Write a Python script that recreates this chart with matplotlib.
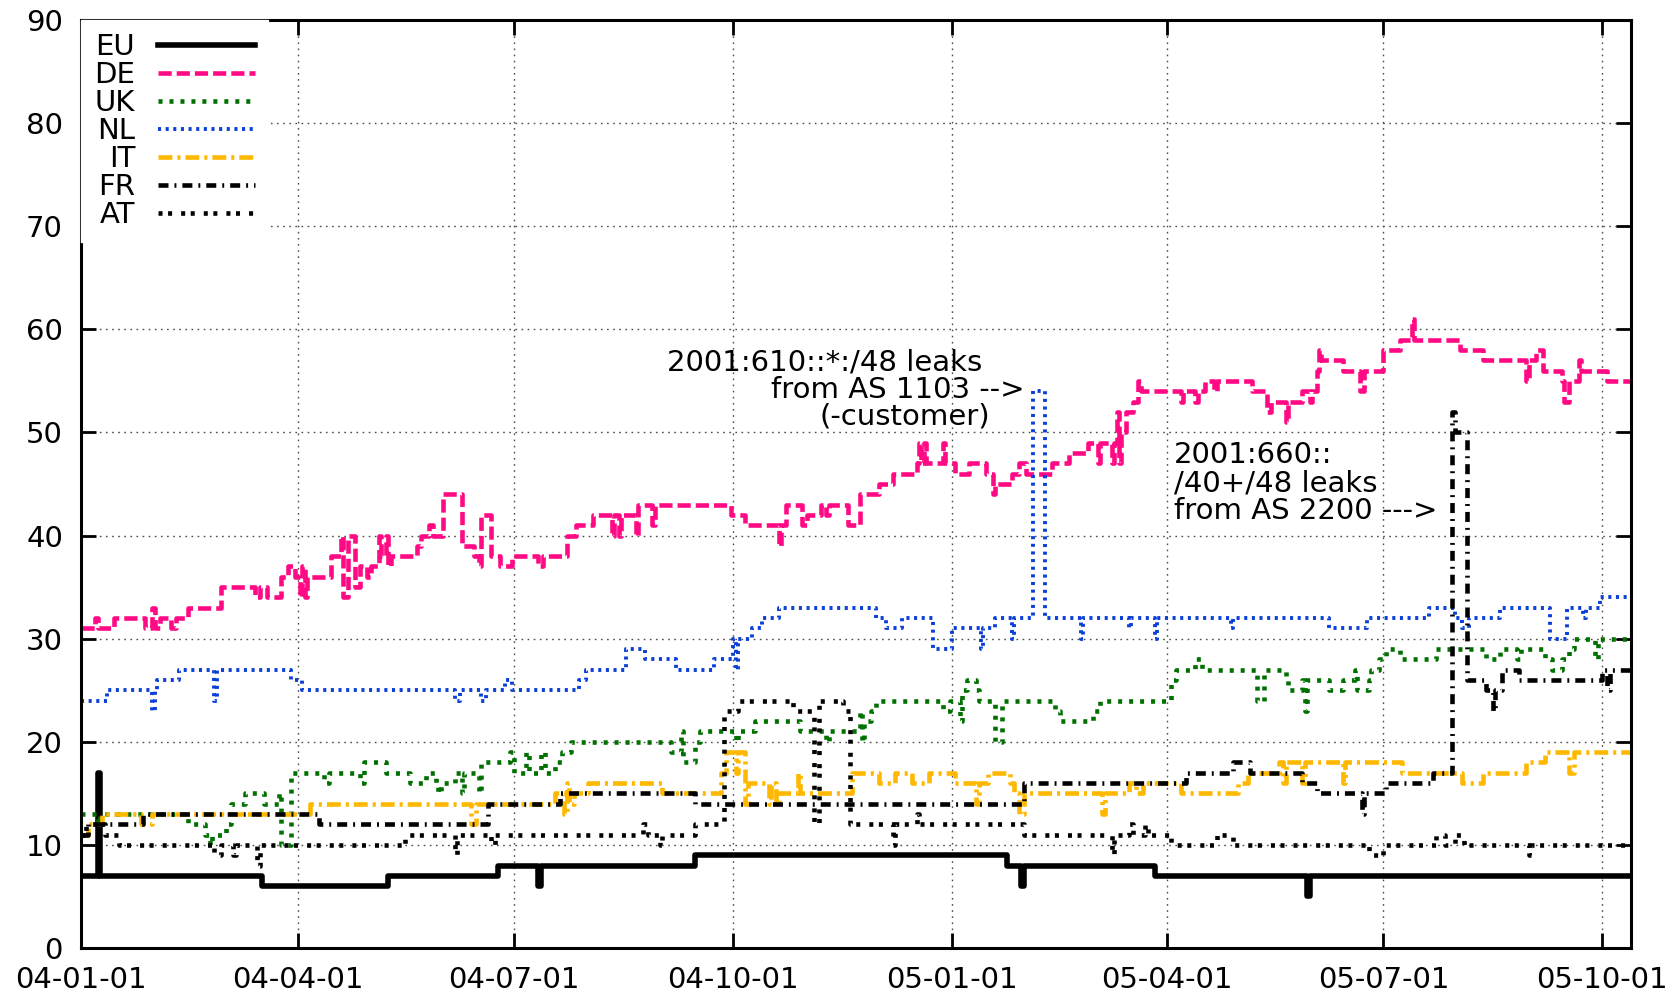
import numpy as np
import matplotlib
matplotlib.use('Agg')
import matplotlib.pyplot as plt
import matplotlib.dates as mdates

plt.rcParams['font.family'] = 'DejaVu Sans'
plt.rcParams['lines.scale_dashes'] = False
plt.rcParams['lines.dash_capstyle'] = 'butt'

# day offsets since 2004-01-01 where the value changes, and the new value
eu_days = [0, 7, 8, 76, 129, 175, 192, 193, 258, 389, 395, 396, 451, 515, 516]
eu_vals = [7, 17, 7, 6, 7, 8, 6, 8, 9, 8, 6, 8, 7, 5, 7]

de_days = [0, 6, 7, 14, 27, 30, 31, 33, 38, 40, 45, 59, 73, 75, 78, 84, 87, 90, 92, 93, 94, 95,
           105, 109, 110, 112, 115, 117, 120, 122, 125, 126, 128, 129, 130, 141, 143, 146, 148, 152,
           160, 165, 167, 168, 172, 176, 181, 192, 194, 204, 208, 215, 223, 224, 226, 227, 233, 234,
           240, 241, 273, 279, 293, 294, 296, 303, 305, 311, 313, 314, 322, 325, 327, 335, 341, 351,
           352, 353, 354, 355, 362, 363, 367, 373, 380, 383, 384, 391, 394, 397, 408, 415, 423, 427,
           428, 433, 434, 435, 436, 437, 439, 442, 444, 445, 462, 463, 468, 469, 472, 476, 477, 492,
           498, 500, 506, 507, 513, 516, 517, 519, 520, 521, 530, 537, 539, 547, 554, 559, 560, 579,
           589, 607, 608, 611, 614, 622, 623, 625, 629, 630, 641]
de_vals = [31, 32, 31, 32, 31, 33, 31, 32, 31, 32, 33, 35, 34, 35, 34, 36, 37, 36, 34, 37, 34, 36,
           38, 40, 34, 40, 35, 37, 36, 37, 40, 38, 40, 37, 38, 39, 40, 41, 40, 44,
           39, 38, 37, 42, 38, 37, 38, 37, 38, 40, 41, 42, 40, 42, 40, 42, 40, 43,
           41, 43, 42, 41, 39, 41, 43, 41, 42, 43, 42, 43, 41, 41, 44, 45, 46, 47,
           49, 47, 49, 47, 49, 47, 46, 47, 46, 44, 45, 46, 47, 46, 47, 48, 49, 47,
           49, 47, 49, 52, 47, 50, 52, 53, 55, 54, 53, 54, 53, 54, 55, 54, 55, 54,
           52, 53, 51, 53, 54, 53, 54, 56, 58, 57, 56, 54, 56, 58, 59, 61, 59, 58,
           57, 55, 57, 58, 56, 55, 53, 55, 57, 56, 55]

uk_days = [0, 7, 8, 45, 52, 54, 55, 61, 63, 69, 77, 83, 84, 88, 102, 104, 117, 119, 128, 138, 145,
           149, 150, 151, 157, 160, 161, 167, 168, 180, 182, 187, 188, 193, 195, 199, 202, 206, 248,
           252, 253, 258, 260, 275, 276, 283, 302, 313, 314, 327, 328, 329, 332, 334, 362, 365, 369,
           370, 372, 376, 377, 384, 387, 409, 411, 425, 428, 458, 460, 468, 471, 494, 497, 506, 507,
           513, 514, 515, 524, 530, 535, 536, 541, 542, 545, 548, 554, 569, 590, 596, 603, 605, 615,
           618, 622, 625, 627, 636, 637]
uk_vals = [13, 12, 13, 12, 11, 10, 11, 12, 14, 15, 14, 15, 10, 17, 16, 17, 16, 18, 17, 16, 17,
           16, 15, 16, 17, 15, 17, 15, 18, 19, 17, 19, 17, 19, 17, 18, 19, 20, 19,
           21, 18, 20, 21, 20, 21, 22, 21, 20, 21, 23, 20, 22, 23, 24, 23, 24, 22,
           25, 26, 25, 24, 20, 24, 23, 22, 23, 24, 26, 27, 28, 27, 24, 27, 26, 25,
           26, 23, 26, 25, 26, 27, 25, 26, 27, 28, 29, 28, 29, 28, 29, 28, 29, 28,
           27, 28, 29, 30, 28, 30]

nl_days = [0, 11, 30, 31, 32, 41, 56, 57, 88, 93, 157, 159, 168, 170, 178, 181, 209, 212, 229, 237,
           250, 266, 274, 275, 276, 282, 286, 293, 334, 338, 345, 358, 366, 378, 379, 384, 391, 392,
           400, 405, 420, 421, 440, 441, 451, 452, 483, 484, 524, 540, 566, 577, 580, 583, 596, 617,
           624, 631, 632, 638]
nl_vals = [24, 25, 23, 25, 26, 27, 24, 27, 26, 25, 24, 25, 24, 25, 26, 25, 26, 27, 29, 28,
           27, 28, 30, 27, 30, 31, 32, 33, 32, 31, 32, 29, 31, 29, 31, 32, 30, 32,
           54, 32, 30, 32, 31, 32, 30, 32, 31, 32, 31, 32, 33, 32, 31, 32, 33, 30,
           33, 32, 33, 34]

it_days = [0, 3, 9, 25, 30, 96, 164, 166, 199, 203, 204, 205, 207, 213, 244, 269, 271, 275, 276,
           279, 280, 289, 290, 292, 293, 301, 302, 324, 335, 342, 349, 356, 367, 376, 377, 381, 390,
           392, 394, 396, 429, 430, 440, 443, 446, 462, 486, 490, 503, 505, 506, 513, 514, 530, 531,
           555, 580, 589, 607, 615, 625, 627]
it_vals = [11, 12, 13, 12, 13, 14, 12, 14, 15, 13, 16, 14, 15, 16, 15, 17, 19, 17, 19,
           14, 16, 14, 16, 14, 15, 17, 15, 17, 16, 17, 16, 17, 16, 14, 16, 17, 16,
           15, 13, 15, 13, 15, 16, 15, 16, 15, 16, 17, 18, 16, 18, 16, 18, 16, 18,
           17, 16, 17, 18, 19, 17, 19]

fr_days = [0, 3, 26, 100, 171, 201, 258, 396, 464, 484, 491, 513, 519, 538, 539, 548, 568, 576,
           577, 582, 590, 593, 594, 597, 604, 639, 641, 642]
fr_vals = [11, 12, 13, 12, 14, 15, 14, 16, 17, 18, 17, 16, 15, 13, 15, 16, 17, 52,
           50, 26, 25, 23, 25, 27, 26, 27, 25, 27]

at_days = [0, 2, 10, 16, 56, 59, 64, 65, 74, 75, 136, 157, 158, 172, 174, 236, 238, 243, 244, 258,
           270, 276, 299, 308, 310, 320, 323, 341, 342, 351, 352, 396, 433, 434, 440, 442, 447, 448,
           458, 477, 484, 541, 547, 569, 573, 577, 581, 608, 609]
at_vals = [11, 12, 11, 10, 9, 10, 9, 10, 8, 10, 11, 9, 11, 10, 11, 12, 11, 10, 11, 12,
           23, 24, 23, 12, 24, 23, 12, 10, 12, 13, 12, 11, 9, 11, 12, 11, 12, 11,
           10, 11, 10, 9, 10, 11, 10, 11, 10, 9, 10]

labels = ['EU', 'DE', 'UK', 'NL', 'IT', 'FR', 'AT']
colors = ['black', '#ff0a84', '#007000', '#0a3fd8', '#ffb800', 'black', 'black']
widths = [4.0, 3.3, 3.3, 2.8, 3.3, 3.3, 3.3]
styles = ['-', (0, (9.5, 3.6)), (0, (2.9, 5.0)), (0, (2.2, 3.3)),
          (0, (10, 3.6, 2.2, 3.6)), (0, (7.2, 4.3, 1.4, 4.3)), (0, (2.9, 4.0, 2.9, 6.5))]
all_days = [eu_days, de_days, uk_days, nl_days, it_days, fr_days, at_days]
all_vals = [eu_vals, de_vals, uk_vals, nl_vals, it_vals, fr_vals, at_vals]

start = np.datetime64('2004-01-01')
end_day = 652

fig = plt.figure(figsize=(16.8, 9.93), dpi=100)
ax = fig.add_axes([81/1680, 45/993, 1550/1680, 928/993])

for d, v, lab, c, w, ls in zip(all_days, all_vals, labels, colors, widths, styles):
    x = start + np.array(d + [end_day]).astype('timedelta64[D]')
    y = v + [v[-1]]
    ax.plot(x, y, drawstyle='steps-post', color=c, lw=w, linestyle=ls, label=lab)

ax.set_ylim(0, 90)
ax.set_yticks(range(0, 91, 10))
ax.set_xlim(start, start + np.timedelta64(end_day - 1, 'D'))
ax.xaxis.set_major_locator(mdates.MonthLocator(bymonth=[1, 4, 7, 10]))
ax.xaxis.set_major_formatter(mdates.DateFormatter('%y-%m-%d'))

ax.grid(True, linestyle=(0, (1.2, 3.2)), color='0.3', lw=1.0)
ax.set_axisbelow(True)
for s in ax.spines.values():
    s.set_linewidth(2.2)
ax.tick_params(direction='in', length=11, width=2, top=True, right=True, labelsize=21)
ax.tick_params(axis='y', pad=13)
ax.tick_params(axis='x', pad=13)

leg = ax.legend(loc='upper left', bbox_to_anchor=(0, 1), borderaxespad=0, markerfirst=False,
                fontsize=21, handlelength=3.3, handletextpad=0.8, labelspacing=0.0,
                borderpad=0.45, frameon=True, fancybox=False)
leg.get_frame().set_facecolor('white')
leg.get_frame().set_edgecolor('white')
leg.get_frame().set_alpha(1)

fs = 21
ax.text(start + np.timedelta64(246, 'D'), 56.0, '2001:610::*:/48 leaks', fontsize=fs)
ax.text(start + np.timedelta64(290, 'D'), 53.3, 'from AS 1103 -->', fontsize=fs)
ax.text(start + np.timedelta64(310, 'D'), 50.8, '(-customer)', fontsize=fs)
ax.text(start + np.timedelta64(459, 'D'), 47.0, '2001:660::', fontsize=fs)
ax.text(start + np.timedelta64(459, 'D'), 44.3, '/40+/48 leaks', fontsize=fs)
ax.text(start + np.timedelta64(459, 'D'), 41.6, 'from AS 2200 --->', fontsize=fs)

fig.savefig('out.png', dpi=100)
